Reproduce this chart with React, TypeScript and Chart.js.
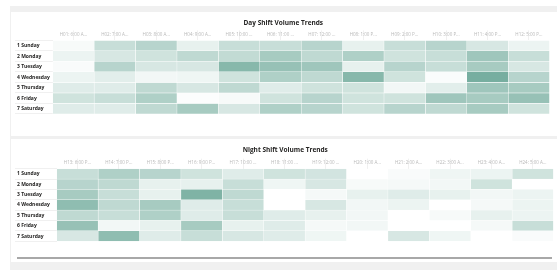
import React, { useEffect, useRef } from 'react';
import { Chart, registerables } from 'chart.js';

Chart.register(...registerables);

const DAYS = ['1 Sunday', '2 Monday', '3 Tuesday', '4 Wednesday', '5 Thursday', '6 Friday', '7 Saturday'];

const DAY_HOURS = ['H01: 6:00 A...', 'H02: 7:00 A...', 'H03: 8:00 A...', 'H04: 9:00 A...', 'H05: 10:00 ...', 'H06: 11:00 ...', 'H07: 12:00 ...', 'H08: 1:00 P...', 'H09: 2:00 P...', 'H10: 3:00 P...', 'H11: 4:00 P...', 'H12: 5:00 P...'];
const NIGHT_HOURS = ['H13: 6:00 P...', 'H14: 7:00 P...', 'H15: 8:00 P...', 'H16: 9:00 P...', 'H17: 10:00 ...', 'H18: 11:00 ...', 'H19: 12:00 ...', 'H20: 1:00 A...', 'H21: 2:00 A...', 'H22: 3:00 A...', 'H23: 4:00 A...', 'H24: 5:00 A...'];

// Day shift volumes (rows = days, columns = hours H01..H12)
const daySunday = [5, 35, 45, 15, 35, 35, 45, 15, 35, 45, 25, 12];
const dayMonday = [12, 25, 30, 40, 38, 55, 40, 50, 30, 35, 60, 35];
const dayTuesday = [4, 45, 25, 25, 75, 65, 60, 15, 45, 35, 55, 25];
const dayWednesday = [12, 18, 8, 10, 30, 50, 40, 75, 30, 3, 85, 45];
const dayThursday = [20, 20, 40, 25, 40, 20, 30, 30, 8, 18, 60, 55];
const dayFriday = [30, 35, 50, 2, 5, 30, 45, 30, 30, 60, 55, 65];
const daySaturday = [20, 20, 40, 55, 25, 50, 45, 30, 45, 40, 55, 30];

// Night shift volumes (rows = days, columns = hours H13..H24)
const nightSunday = [35, 50, 45, 30, 20, 30, 28, 0, 4, 10, 12, 30];
const nightMonday = [45, 40, 15, 15, 35, 10, 25, 5, 6, 8, 30, 0];
const nightTuesday = [55, 35, 15, 80, 40, 0, 6, 15, 20, 15, 8, 12];
const nightWednesday = [70, 40, 55, 20, 35, 0, 25, 8, 12, 0, 6, 12];
const nightThursday = [40, 35, 50, 20, 35, 20, 15, 8, 0, 5, 15, 12];
const nightFriday = [65, 8, 15, 55, 15, 20, 6, 8, 0, 0, 6, 35];
const nightSaturday = [25, 70, 20, 35, 25, 20, 10, 0, 25, 10, 0, 4];

const DAY_ROWS = [daySunday, dayMonday, dayTuesday, dayWednesday, dayThursday, dayFriday, daySaturday];
const NIGHT_ROWS = [nightSunday, nightMonday, nightTuesday, nightWednesday, nightThursday, nightFriday, nightSaturday];

const FONT = "'Open Sans', 'Noto Sans', sans-serif";

function cellColor(v: number): string {
  const t = Math.max(0, Math.min(100, v)) / 100;
  const r = Math.round(255 - 160 * t);
  const g = Math.round(255 - 95 * t);
  const b = Math.round(255 - 112 * t);
  return `rgb(${r},${g},${b})`;
}

type HeatProps = {
  title: string;
  hours: string[];
  rows: number[][];
  width: number;
  height: number;
  axisWidth: number;
  topHeight: number;
  padRight: number;
  padBottom: number;
};

function Heatmap(p: HeatProps) {
  const ref = useRef<HTMLCanvasElement | null>(null);
  useEffect(() => {
    if (!ref.current) return;
    const datasets = p.hours.map((h, hi) => ({
      label: h,
      data: DAYS.map(() => 1),
      backgroundColor: DAYS.map((_, di) => cellColor(p.rows[di][hi])),
      borderColor: '#ffffff',
      borderWidth: 0.5,
      borderSkipped: false as const,
      barPercentage: 1,
      categoryPercentage: 1,
    }));
    const chart = new Chart(ref.current, {
      type: 'bar',
      data: { labels: DAYS, datasets },
      options: {
        indexAxis: 'y',
        animation: false,
        responsive: false,
        maintainAspectRatio: false,
        layout: { padding: { left: 6, right: p.padRight, top: 0, bottom: p.padBottom } },
        plugins: {
          legend: { display: false },
          tooltip: { enabled: false },
          title: {
            display: true,
            text: p.title,
            color: '#252423',
            font: { family: FONT, size: 6.5, weight: 'bold' },
            padding: { top: 7, bottom: 2 },
          },
        },
        scales: {
          x: { type: 'linear', stacked: true, min: 0, max: 12, display: false },
          xTop: {
            type: 'category',
            axis: 'x',
            position: 'top',
            labels: p.hours,
            offset: true,
            grid: { drawOnChartArea: false, tickLength: 10, color: '#e6e6e6', lineWidth: 0.6 },
            border: { display: false },
            ticks: {
              color: '#b8b8b8',
              font: { family: FONT, size: 4.5 },
              maxRotation: 0,
              minRotation: 0,
              autoSkip: false,
              padding: -7,
            },
            afterFit: (s: any) => { s.height = p.topHeight; },
          },
          y: {
            type: 'category',
            stacked: true,
            offset: true,
            grid: { drawOnChartArea: false, tickLength: p.axisWidth + 2, color: '#e6e6e6', lineWidth: 0.6 },
            border: { display: false },
            ticks: {
              crossAlign: 'far',
              color: '#252423',
              font: { family: FONT, size: 5, weight: 'bold' },
              autoSkip: false,
            },
            afterFit: (s: any) => { s.width = p.axisWidth; },
          },
        },
      } as any,
    });
    return () => chart.destroy();
  }, []);
  return <canvas ref={ref} width={p.width} height={p.height} style={{ width: p.width, height: p.height, display: 'block' }} />;
}

export default function App() {
  return (
    <div style={{ position: 'fixed', left: 0, top: 0, width: 557, height: 274, background: '#ffffff', overflow: 'hidden' }}>
      <div style={{ position: 'absolute', left: 10, top: 6, width: 547, height: 264, background: '#f0f0f0' }} />
      <div style={{ position: 'absolute', left: 11, top: 12, width: 546, height: 124, background: '#ffffff' }}>
        <Heatmap title="Day Shift Volume Trends" hours={DAY_HOURS} rows={DAY_ROWS} width={546} height={124}
          axisWidth={35.7} topHeight={11.6} padRight={7.4} padBottom={22} />
      </div>
      <div style={{ position: 'absolute', left: 11, top: 139, width: 546, height: 123, background: '#ffffff' }}>
        <Heatmap title="Night Shift Volume Trends" hours={NIGHT_HOURS} rows={NIGHT_ROWS} width={546} height={123}
          axisWidth={39.7} topHeight={12.9} padRight={3.5} padBottom={20.7} />
        <div style={{ position: 'absolute', left: 6, top: 117.5, width: 535, height: 2, background: '#a8a8a8' }} />
      </div>
    </div>
  );
}
